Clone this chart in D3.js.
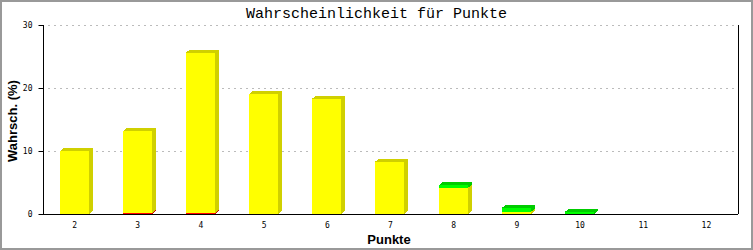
<!DOCTYPE html>
<html><head><meta charset="utf-8">
<script src="https://cdn.jsdelivr.net/npm/d3@7"></script>
<style>body{margin:0;background:#fff}svg{display:block}</style>
</head><body>
<script>
const categories = ["2","3","4","5","6","7","8","9","10","11","12"];
const seriesNames = ["rot","gelb","gruen"];
const redValues    = [0, 0.17, 0.17, 0, 0, 0, 0, 0, 0, 0, 0];
const yellowValues = [10.0, 13.0, 25.45, 19.05, 18.3, 8.3, 4.17, 0.35, 0, 0, 0];
const greenValues  = [0, 0, 0, 0, 0, 0, 0.43, 0.65, 0.35, 0, 0];
const yTicks = [0, 10, 20, 30];
const chartTitle = "Wahrscheinlichkeit für Punkte";
const xTitle = "Punkte";
const yTitle = "Wahrsch. (%)";

const W = 753, H = 250;
const mLeft = 43, mRight = 738, mTop = 25, mBottom = 214;
const frontCol = ["#ff0000", "#ffff00", "#00ff00"];
const sideCol  = ["#cc0000", "#d0d000", "#00cc00"];
const dx = 4, dy = 3, barW = 29;

const svg = d3.select("body").append("svg").attr("width", W).attr("height", H);
svg.append("rect").attr("x",1).attr("y",1).attr("width",W-2).attr("height",H-2)
  .attr("fill","#fff").attr("stroke","#999").attr("stroke-width",2);

const x = d3.scaleBand().domain(categories).range([mLeft, mRight]);
const y = d3.scaleLinear().domain([0, 30]).range([mBottom, mTop]);

// grid
svg.append("g").selectAll("line").data(yTicks.filter(t => t > 0)).join("line")
  .attr("x1", 48).attr("x2", mRight - 1)
  .attr("y1", d => Math.round(y(d)) + 0.5).attr("y2", d => Math.round(y(d)) + 0.5)
  .attr("stroke", "#bbb").attr("stroke-dasharray", "2,4");

// stacked data
const rows = categories.map((c, i) => ({cat: c, rot: redValues[i], gelb: yellowValues[i], gruen: greenValues[i]}));
const stack = d3.stack().keys(seriesNames)(rows);

const bars = svg.append("g");
categories.forEach((c, i) => {
  const cx = x(c) + x.bandwidth() / 2;
  const x0 = Math.round(cx - 15);
  stack.forEach((layer, s) => {
    const [v0, v1] = layer[i];
    if (v1 - v0 <= 0) return;
    const yT = y(v1), yB = y(v0);
    const g = bars.append("g").attr("shape-rendering", "crispEdges");
    g.append("polygon").attr("fill", sideCol[s]).attr("points", [
      [x0 + barW, yT], [x0 + barW + dx, yT - dy], [x0 + barW + dx, yB - dy], [x0 + barW, yB]
    ].map(p => p.join(",")).join(" "));
    g.append("polygon").attr("fill", sideCol[s]).attr("points", [
      [x0, yT], [x0 + dx, yT - dy], [x0 + barW + dx, yT - dy], [x0 + barW, yT]
    ].map(p => p.join(",")).join(" "));
    g.append("rect").attr("x", x0).attr("y", yT).attr("width", barW).attr("height", yB - yT)
      .attr("fill", frontCol[s]);
  });
});

// axes
const yAxis = d3.axisLeft(y).tickValues(yTicks).tickSize(5).tickPadding(6);
const gy = svg.append("g").attr("transform", `translate(${mLeft + 0.5},0)`).call(yAxis);
gy.select(".domain").attr("d", `M0,${mTop}V${mBottom + 1}`).attr("stroke", "#000");
gy.selectAll(".tick").attr("transform", d => `translate(0,${Math.round(y(d)) + 0.5})`);
gy.selectAll("text").attr("font-family", "DejaVu Sans Mono").attr("font-size", 8).attr("fill", "#000");
gy.selectAll("line").attr("stroke", "#000");

const xAxis = d3.axisBottom(x).tickSize(0).tickPadding(8);
const gx = svg.append("g").attr("transform", `translate(0,${mBottom + 0.5})`).call(xAxis);
gx.select(".domain").attr("d", `M${mLeft},0H${mRight}`).attr("stroke", "#000");
gx.selectAll("text").attr("font-family", "DejaVu Sans Mono").attr("font-size", 8).attr("fill", "#000");

svg.append("line").attr("x1", mRight + 0.5).attr("x2", mRight + 0.5).attr("y1", mTop).attr("y2", mBottom)
  .attr("stroke", "#000");

// titles
svg.append("text").attr("x", 376.5).attr("y", 18).attr("text-anchor", "middle")
  .attr("font-family", "Liberation Mono").attr("font-size", 15).text(chartTitle);
svg.append("text").attr("x", 389).attr("y", 244).attr("text-anchor", "middle")
  .attr("font-family", "Liberation Sans").attr("font-weight", "bold").attr("font-size", 13).text(xTitle);
svg.append("text").attr("transform", "translate(17,121) rotate(-90)").attr("text-anchor", "middle")
  .attr("font-family", "Liberation Sans").attr("font-weight", "bold").attr("font-size", 13).text(yTitle);
</script>
</body></html>
